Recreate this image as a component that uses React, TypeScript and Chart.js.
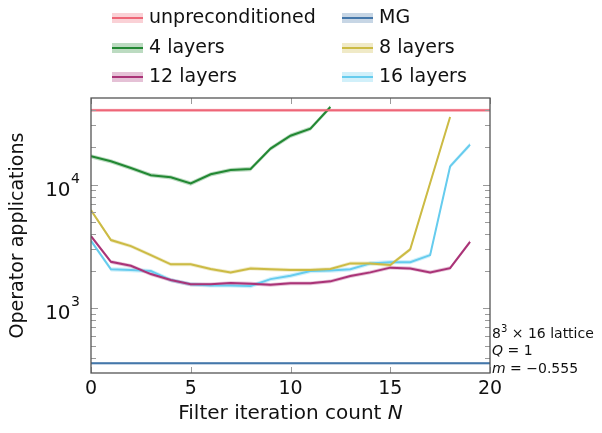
import React, { useEffect, useRef } from 'react';
import { Chart, registerables } from 'chart.js';

Chart.register(...registerables);

// Filter iteration counts N
const iterations = [0, 1, 2, 3, 4, 5, 6, 7, 8, 9, 10, 11, 12, 13, 14, 15, 16, 17, 18, 19];
const flatRange = [0, 20];

// Operator applications per solver configuration
const unpreconditioned = [39800, 39800];
const multigrid = [360, 360];
const layers4 = [16900, 15400, 13600, 11900, 11450, 10200, 12100, 13100, 13350, 19500, 24800, 28300, 42300];
const layers8 = [6200, 3560, 3180, 2690, 2265, 2265, 2075, 1950, 2100, 2065, 2040, 2040, 2075, 2305, 2305, 2235, 2990, 10300, 35100];
const layers12 = [3830, 2375, 2205, 1890, 1690, 1563, 1563, 1600, 1580, 1550, 1590, 1590, 1650, 1820, 1950, 2130, 2100, 1950, 2110, 3440];
const layers16 = [3510, 2065, 2040, 2000, 1690, 1563, 1530, 1530, 1513, 1720, 1833, 2000, 2015, 2065, 2305, 2360, 2360, 2690, 14000, 21000];

// Relative width of the shaded uncertainty band around each curve
const bandSpread = [0.03, 0.02, 0.04, 0.035, 0.035, 0.04];

const seriesLabels = ['unpreconditioned', 'MG', '4 layers', '8 layers', '12 layers', '16 layers'];
const seriesColors = ['#ee6677', '#4477aa', '#228833', '#ccbb44', '#aa3377', '#66ccee'];

// Axis ticks
const xMajorTicks = [0, 5, 10, 15, 20];
const yMajorTicks = [1000, 10000];
const yTickBase = '10';
const yTickExponents = ['3', '4'];
const yMinorTicks = [400, 500, 600, 700, 800, 900, 2000, 3000, 4000, 5000, 6000, 7000, 8000, 9000, 20000, 30000, 40000];

const FONT = "'DejaVu Sans', sans-serif";

function hexToRgba(hex: string, a: number) {
  const n = parseInt(hex.slice(1), 16);
  return `rgba(${(n >> 16) & 255}, ${(n >> 8) & 255}, ${n & 255}, ${a})`;
}

function seriesDatasets(idx: number, xs: number[], ys: number[]) {
  const color = seriesColors[idx];
  const s = bandSpread[idx];
  const pts = (f: number) => ys.map((v, i) => ({ x: xs[i], y: v * f }));
  return [
    { label: seriesLabels[idx] + ' upper', data: pts(1 + s), borderWidth: 0, pointRadius: 0, fill: false, order: 1 },
    {
      label: seriesLabels[idx] + ' lower', data: pts(1 - s), borderWidth: 0, pointRadius: 0,
      fill: '-1', backgroundColor: hexToRgba(color, 0.3), order: 1,
    },
    {
      label: seriesLabels[idx], data: pts(1), borderColor: color, borderWidth: 2, pointRadius: 0,
      fill: false, order: 0,
    },
  ];
}

// Draws a run of [text, font, dy] pieces left to right
function drawRun(ctx: CanvasRenderingContext2D, x: number, y: number, parts: [string, string, number][]) {
  let cx = x;
  for (const [t, f, dy] of parts) {
    ctx.font = f;
    ctx.fillText(t, cx, y + dy);
    cx += ctx.measureText(t).width;
  }
}

// Inward ticks, frame, power-of-ten labels, legend and the lattice annotation
const framePlugin = {
  id: 'frame',
  afterDatasetsDraw(chart: any) {
    const { ctx, chartArea, scales } = chart;
    const { left, right, top, bottom } = chartArea;
    const x = scales.x;
    const y = scales.y;
    ctx.save();
    ctx.strokeStyle = '#9a9a9a';
    ctx.lineWidth = 1;
    ctx.beginPath();
    for (const v of xMajorTicks) {
      const px = Math.round(x.getPixelForValue(v)) + 0.5;
      ctx.moveTo(px, bottom); ctx.lineTo(px, bottom - 6);
      ctx.moveTo(px, top); ctx.lineTo(px, top + 6);
    }
    for (const v of yMajorTicks) {
      const py = Math.round(y.getPixelForValue(v)) + 0.5;
      ctx.moveTo(left, py); ctx.lineTo(left + 7, py);
      ctx.moveTo(right, py); ctx.lineTo(right - 7, py);
    }
    for (const v of yMinorTicks) {
      const py = Math.round(y.getPixelForValue(v)) + 0.5;
      ctx.moveTo(left, py); ctx.lineTo(left + 5, py);
      ctx.moveTo(right, py); ctx.lineTo(right - 5, py);
    }
    ctx.stroke();
    ctx.strokeStyle = '#555555';
    ctx.lineWidth = 1.3;
    ctx.strokeRect(left, top, right - left, bottom - top);
    ctx.restore();
  },
  afterDraw(chart: any) {
    const { ctx, chartArea, scales } = chart;
    const { left, right, bottom } = chartArea;
    const y = scales.y;
    ctx.save();
    ctx.fillStyle = '#111';
    ctx.textBaseline = 'alphabetic';

    // y-axis labels 10^k with a raised exponent
    yMajorTicks.forEach((v, i) => {
      const py = y.getPixelForValue(v);
      ctx.font = `14px ${FONT}`;
      ctx.textAlign = 'right';
      const ew = ctx.measureText(yTickExponents[i]).width;
      ctx.fillText(yTickExponents[i], left - 11, py - 2);
      ctx.font = `20px ${FONT}`;
      ctx.fillText(yTickBase, left - 11 - ew - 0.5, py + 11);
    });

    ctx.textAlign = 'left';
    // x-axis title with italic N
    drawRun(ctx, 0, 0, []);
    const plain = 'Filter iteration count ';
    ctx.font = `20px ${FONT}`;
    const w1 = ctx.measureText(plain).width;
    ctx.font = `italic 20px ${FONT}`;
    const w2 = ctx.measureText('N').width;
    const startX = (left + right) / 2 - (w1 + w2) / 2;
    drawRun(ctx, startX, bottom + 46, [[plain, `20px ${FONT}`, 0], ['N', `italic 20px ${FONT}`, 0]]);

    // Lattice annotation
    const ax = right + 2;
    const f14 = `14px ${FONT}`;
    const i14 = `italic 14px ${FONT}`;
    drawRun(ctx, ax, bottom - 35, [['8', f14, 0], ['3', `10px ${FONT}`, -6], [' × 16 lattice', f14, 0]]);
    drawRun(ctx, ax, bottom - 18, [['Q', i14, 0], [' = 1', f14, 0]]);
    drawRun(ctx, ax, bottom, [['m', i14, 0], [' = −0.555', f14, 0]]);

    // Legend: two columns, three rows
    const colX = [112, 342];
    const rowY = [18, 48, 77];
    seriesLabels.forEach((label, i) => {
      const sx = colX[i % 2];
      const sy = rowY[Math.floor(i / 2)];
      ctx.fillStyle = hexToRgba(seriesColors[i], 0.3);
      ctx.fillRect(sx, sy - 5, 31, 10);
      ctx.strokeStyle = seriesColors[i];
      ctx.lineWidth = 2;
      ctx.beginPath();
      ctx.moveTo(sx, sy);
      ctx.lineTo(sx + 31, sy);
      ctx.stroke();
      ctx.fillStyle = '#111';
      ctx.font = `19px ${FONT}`;
      ctx.textBaseline = 'middle';
      ctx.fillText(label, sx + 37, sy);
    });
    ctx.restore();
  },
};

export default function App() {
  const canvasRef = useRef<HTMLCanvasElement | null>(null);

  useEffect(() => {
    if (!canvasRef.current) return;
    Chart.defaults.font.family = FONT;
    Chart.defaults.color = '#111';

    const datasets: any[] = [
      ...seriesDatasets(0, flatRange, unpreconditioned),
      ...seriesDatasets(1, flatRange, multigrid),
      ...seriesDatasets(2, iterations, layers4),
      ...seriesDatasets(3, iterations, layers8),
      ...seriesDatasets(4, iterations, layers12),
      ...seriesDatasets(5, iterations, layers16),
    ];

    const chart = new Chart(canvasRef.current, {
      type: 'line',
      data: { datasets },
      options: {
        animation: false,
        responsive: false,
        maintainAspectRatio: false,
        devicePixelRatio: 1,
        layout: { padding: { left: 0, right: 112, top: 98, bottom: 0 } },
        plugins: { legend: { display: false }, tooltip: { enabled: false } },
        elements: { line: { tension: 0 } },
        scales: {
          x: {
            type: 'linear',
            min: 0,
            max: 20,
            afterBuildTicks: (scale: any) => { scale.ticks = xMajorTicks.map((v) => ({ value: v })); },
            afterFit: (scale: any) => { scale.height = 60; },
            ticks: { font: { size: 19 }, color: '#111', padding: 5, maxRotation: 0, autoSkip: false },
            grid: { display: false, drawTicks: false },
            border: { display: false },
          },
          y: {
            type: 'logarithmic',
            min: 300,
            max: 50000,
            afterBuildTicks: (scale: any) => { scale.ticks = yMajorTicks.map((v) => ({ value: v })); },
            afterFit: (scale: any) => { scale.width = 91; },
            ticks: { display: false },
            grid: { display: false, drawTicks: false },
            border: { display: false },
            title: {
              display: true,
              text: 'Operator applications',
              font: { size: 19 },
              color: '#111',
              padding: { top: 7, bottom: 0 },
            },
          },
        },
      },
      plugins: [framePlugin],
    } as any);

    return () => chart.destroy();
  }, []);

  return (
    <div style={{ position: 'fixed', left: 0, top: 0, width: 602, height: 433, background: '#fff' }}>
      <canvas ref={canvasRef} width={602} height={433} style={{ display: 'block' }} />
    </div>
  );
}
